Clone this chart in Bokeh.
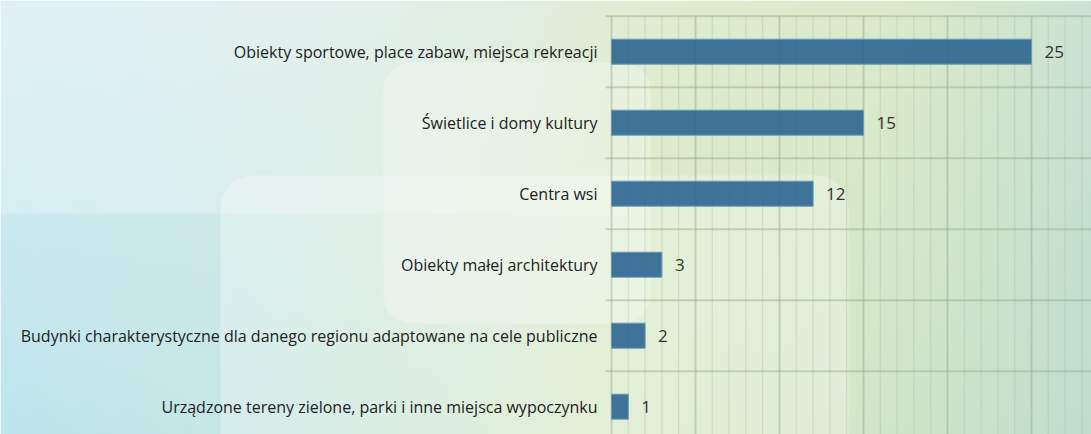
import numpy as np
from bokeh.plotting import figure
from bokeh.models import Range1d, ColumnDataSource
from bokeh.core.properties import value
from bokeh.embed import file_html
from bokeh.resources import INLINE

# ---- data ----
categories = [
    "Obiekty sportowe, place zabaw, miejsca rekreacji",
    "Świetlice i domy kultury",
    "Centra wsi",
    "Obiekty małej architektury",
    "Budynki charakterystyczne dla danego regionu adaptowane na cele publiczne",
    "Urządzone tereny zielone, parki i inne miejsca wypoczynku",
]
counts = [25, 15, 12, 3, 2, 1]
major_grid = [0, 5, 10, 15, 20, 25]
minor_grid = [1, 2, 3, 4, 6, 7, 8, 9, 11, 12, 13, 14, 16, 17, 18, 19,
              21, 22, 23, 24, 26, 27, 28]

# ---- layout (pixels) ----
W, H = 1091, 434
PXU = 16.8          # pixels per unit on value axis
X0 = 611            # pixel of value 0
BAND = 71           # pixels per category band
TOP = 15.7          # pixel of top of plot area
n = len(categories)

x_start = -X0 / PXU
x_end = (W - X0) / PXU
y_top = n - 0.5 + TOP / BAND
y_bot = y_top - H / BAND

def dx(px):
    return (px - X0) / PXU

def dy(py):
    return y_top - py / BAND

p = figure(width=W, height=H, x_range=Range1d(x_start, x_end),
           y_range=Range1d(y_bot, y_top), output_backend="svg",
           toolbar_location=None, min_border=0, x_axis_location=None,
           y_axis_location=None, outline_line_color=None)
p.grid.visible = False
p.background_fill_color = None
p.border_fill_color = None

# ---- background gradient (styling) ----
def hexrgb(h):
    h = h.lstrip("#")
    return np.array([int(h[i:i + 2], 16) for i in (0, 2, 4)], dtype=float)

def row(stops, xs):
    px = [s[0] for s in stops]
    cols = np.array([hexrgb(s[1]) for s in stops])
    return np.stack([np.interp(xs, px, cols[:, k]) for k in range(3)], axis=-1)

xs = np.arange(W)
top_row = row([(0, "#d8eef5"), (400, "#daece4"), (650, "#dfecd0"),
               (900, "#dbeacb"), (1091, "#cce3d2")], xs)
bot_row = row([(0, "#bde5ee"), (250, "#c6e7e3"), (600, "#d8eac6"),
               (850, "#d3e7c9"), (1091, "#c0ddcc")], xs)
ys = np.arange(H)[:, None, None] / (H - 1)
img = top_row[None, :, :] * (1 - ys) + bot_row[None, :, :] * ys
# lighter upper strip, fading out to the right
fade = np.clip((700 - xs) / 300.0, 0, 1) * 0.22
img[:213, :, :] = img[:213, :, :] * (1 - fade[None, :, None]) + 255 * fade[None, :, None]
img = np.flipud(img)
rgba = np.empty((H, W, 4), dtype=np.uint8)
rgba[:, :, :3] = np.clip(img, 0, 255).astype(np.uint8)
rgba[:, :, 3] = 255
p.image_rgba(image=[rgba.view(np.uint32).reshape(H, W)], x=x_start, y=y_bot,
             dw=x_end - x_start, dh=y_top - y_bot)

# translucent rounded panels (styling)
p.quad(left=[dx(220)], right=[dx(848)], top=[dy(175)], bottom=[dy(470)],
       fill_color="white", fill_alpha=0.28, line_color=None, border_radius=32)
p.quad(left=[dx(383)], right=[dx(650)], top=[dy(62)], bottom=[dy(323)],
       fill_color="white", fill_alpha=0.28, line_color=None, border_radius=28)

# ---- grid ----
ypos = [n - 1 - i for i in range(n)]
band_edges = [k - 0.5 for k in range(n + 1)]
p.segment(x0=minor_grid, x1=minor_grid, y0=[n - 0.5] * len(minor_grid),
          y1=[-0.5] * len(minor_grid), line_color="#9db58f", line_alpha=0.3,
          line_width=1.2)
p.segment(x0=major_grid, x1=major_grid, y0=[n - 0.5] * len(major_grid),
          y1=[-0.5] * len(major_grid), line_color="#93a98a", line_alpha=0.45,
          line_width=2)
p.segment(x0=[-6 / PXU] * len(band_edges), x1=[x_end] * len(band_edges),
          y0=band_edges, y1=band_edges, line_color="#93a98a", line_alpha=0.45,
          line_width=2)

# ---- bars ----
src = ColumnDataSource(dict(y=ypos, v=counts, cat=categories,
                            lab=[str(c) for c in counts]))
p.hbar(y="y", left=0, right="v", height=25 / BAND, source=src,
       fill_color="#2c6590", fill_alpha=0.9, line_color="#6a9abb",
       line_width=1)

p.text(x="v", y="y", text="lab", source=src, x_offset=13,
       text_font=value("Open Sans"), text_font_size="17px",
       text_color="#333333", text_baseline="middle", text_align="left")
p.text(x=0, y="y", text="cat", source=src, x_offset=-14,
       text_font=value("Open Sans"), text_font_size="16px",
       text_color="#222222", text_baseline="middle", text_align="right")

open("out.html", "w").write(file_html(p, INLINE))
